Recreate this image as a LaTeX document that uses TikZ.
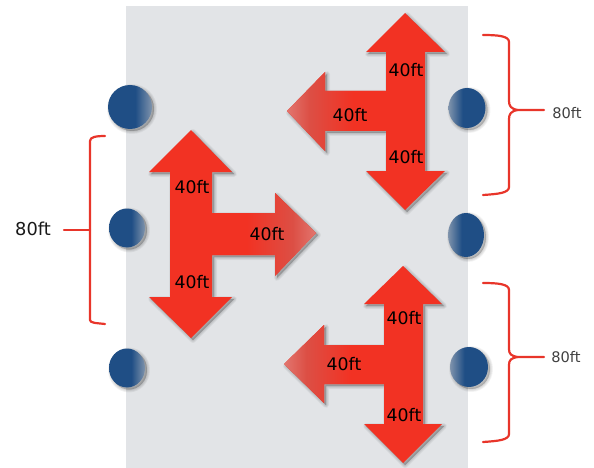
\documentclass[tikz,border=0pt]{standalone}
\usepackage{fontspec}
\setmainfont{DejaVu Sans}
\usetikzlibrary{shapes.geometric}
\definecolor{panelgrey}{HTML}{E2E4E7}
\definecolor{arrowred}{HTML}{F23223}
\definecolor{arrowfade}{HTML}{E2766F}
\definecolor{arrowmid}{HTML}{DC4F45}
\definecolor{braceRed}{HTML}{E8352A}
\definecolor{postblue}{HTML}{1F4E85}
\definecolor{postlight}{HTML}{7F93AC}
\pgfdeclarehorizontalshading{fadeleft}{100bp}{color(0bp)=(arrowfade);color(25bp)=(arrowfade);color(36bp)=(arrowmid);color(58bp)=(arrowred);color(100bp)=(arrowred)}
\pgfdeclarehorizontalshading{faderight}{100bp}{color(0bp)=(arrowred);color(42bp)=(arrowred);color(64bp)=(arrowmid);color(75bp)=(arrowfade);color(100bp)=(arrowfade)}
\pgfdeclarehorizontalshading{postfl}{100bp}{color(0bp)=(postlight);color(25bp)=(postlight);color(44bp)=(postblue);color(100bp)=(postblue)}
\pgfdeclarehorizontalshading{postfr}{100bp}{color(0bp)=(postblue);color(56bp)=(postblue);color(75bp)=(postlight);color(100bp)=(postlight)}
\tikzset{
  shadowlayer/.style={preaction={draw=black,fill=black,opacity=0.045,line width=#1,line join=round,transform canvas={shift={(2pt,-2pt)}}}},
  softshadow/.style={shadowlayer=6pt,shadowlayer=4.5pt,shadowlayer=3pt,shadowlayer=1.5pt,shadowlayer=0.4pt},
  arrowbody/.style={softshadow,fill=arrowred},
  post/.style={ellipse,inner sep=0pt,softshadow},
  dist/.style={font=\fontsize{17.3}{19}\selectfont,text=black,inner sep=0pt},
  bigdim/.style={font=\fontsize{17.8}{19}\selectfont,text=black!90,inner sep=0pt},
  smalldim/.style={font=\fontsize{14.6}{16}\selectfont,text=black!75,inner sep=0pt},
  bracket/.style={draw=braceRed,line width=2.2pt,line cap=round,line join=round},
}
\begin{document}
\begin{tikzpicture}[x=1pt,y=-1pt]
\useasboundingbox (0,0) rectangle (594,468);
\fill[panelgrey] (126,6) rectangle (468,468);

% posts
\node[post,shading=postfr,minimum width=44pt,minimum height=44pt] (p1) at (130,107) {};
\node[post,shading=postfr,minimum width=36pt,minimum height=39pt] (p2) at (127,228) {};
\node[post,shading=postfr,minimum width=36pt,minimum height=39pt] (p3) at (127,368) {};
\node[post,shading=postfl,minimum width=37pt,minimum height=40pt] (p4) at (467,108) {};
\node[post,shading=postfl,minimum width=36pt,minimum height=44pt] (p5) at (466,235) {};
\node[post,shading=postfl,minimum width=38pt,minimum height=40pt] (p6) at (469,367) {};

% top right arrow
\path[arrowbody] (405,13) -- (445,52) -- (425,52) -- (425,171) -- (445,171) -- (405,210) -- (366,171) -- (386,171) -- (386,131) -- (325,131) -- (325,151) -- (287,111) -- (325,72) -- (325,91) -- (386,91) -- (386,52) -- (366,52) -- cycle;
\path[shading=fadeleft] (287,111) -- (325,72) -- (325,91) -- (387,91) -- (387,131) -- (325,131) -- (325,151) -- cycle;

% left arrow
\path[arrowbody] (191,130) -- (232,172) -- (212,172) -- (212,213) -- (275,213) -- (275,193) -- (316,233) -- (275,276) -- (275,255) -- (212,255) -- (212,297) -- (232,297) -- (191,338) -- (149,297) -- (170,297) -- (170,172) -- (149,172) -- cycle;
\path[shading=faderight] (316,233) -- (275,193) -- (275,213) -- (211,213) -- (211,255) -- (275,255) -- (275,276) -- cycle;

% bottom arrow
\path[arrowbody] (403,266) -- (442,304) -- (423,304) -- (423,424) -- (442,424) -- (403,463) -- (364,424) -- (384,424) -- (384,384) -- (324,384) -- (324,403) -- (284,364) -- (324,325) -- (324,345) -- (384,345) -- (384,304) -- (364,304) -- cycle;
\path[shading=fadeleft] (284,364) -- (324,325) -- (324,345) -- (385,345) -- (385,384) -- (324,384) -- (324,403) -- cycle;

% arrow labels
\node[dist] (a1) at (406,70) {40ft};
\node[dist] (a2) at (350,115) {40ft};
\node[dist] (a3) at (406,157) {40ft};
\node[dist] (b1) at (192,187) {40ft};
\node[dist] (b2) at (267,234) {40ft};
\node[dist] (b3) at (192,282) {40ft};
\node[dist] (c1) at (404,318) {40ft};
\node[dist] (c2) at (344,364) {40ft};
\node[dist] (c3) at (404,415) {40ft};

% dimension labels
\node[smalldim] (d1) at (567,113) {80ft};
\node[bigdim] (d2) at (33,229) {80ft};
\node[smalldim] (d3) at (566,357) {80ft};

% brackets
\draw[bracket] (483,35) .. controls (498,35) and (509,36) .. (509,42) -- (509,101) .. controls (509,106) and (511,109) .. (518,110) -- (544,110) -- (518,110) .. controls (511,111) and (509,114) .. (509,119) -- (509,187) .. controls (509,193) and (498,194) .. (483,195);
\draw[bracket] (483,283) .. controls (498,283) and (509,284) .. (509,290) -- (509,349) .. controls (509,354) and (511,356) .. (518,357) -- (544,357) -- (518,357) .. controls (511,358) and (509,360) .. (509,365) -- (509,434) .. controls (509,440) and (498,441) .. (483,442);
\draw[bracket] (105,136) .. controls (96,136) and (90,137) .. (90,141) -- (90,320) .. controls (90,323) and (96,323) .. (105,324);
\draw[bracket] (90,230) -- (64,230);
\end{tikzpicture}
\end{document}
